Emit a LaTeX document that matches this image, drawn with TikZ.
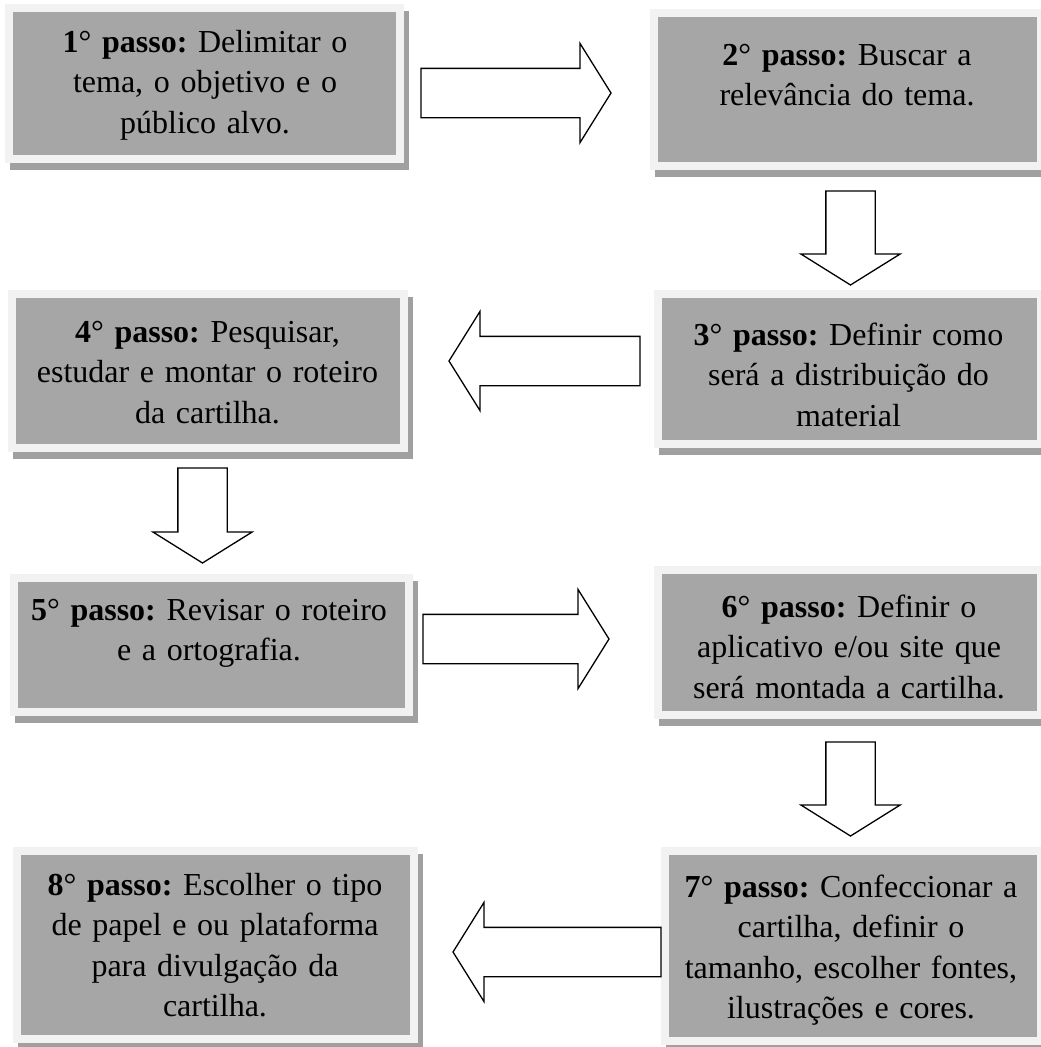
\documentclass[tikz,border=0pt]{standalone}
\usepackage{fontspec}
\setmainfont{Liberation Serif}
\usetikzlibrary{shapes.arrows,shadows}
\definecolor{caixa}{HTML}{A6A6A6}
\definecolor{moldura}{HTML}{F2F2F2}
\definecolor{sombra}{HTML}{A0A0A0}
\frenchspacing
\begin{document}
\begin{tikzpicture}[x=1pt,y=-1pt]
\tikzstyle{passobox}=[rectangle,fill=caixa,draw=moldura,line width=8pt,inner sep=0pt,outer sep=0pt,
  drop shadow={opacity=1,fill=sombra,draw=sombra,line width=8pt,shadow xshift=4.5pt,shadow yshift=-6.5pt}]
\tikzstyle{passotexto}=[text width=390pt,align=center,anchor=base,inner sep=0pt,font=\fontsize{32}{40.5}\selectfont\frenchspacing]
\tikzstyle{seta}=[single arrow,draw=black,fill=white,line width=1.3pt,inner sep=24pt,outer sep=0pt,
  minimum width=0pt,single arrow head extend=25pt,single arrow tip angle=116,anchor=tail]
\useasboundingbox (0,0) rectangle (1041,1047);

% caixas
\node[passobox,minimum width=391pt,minimum height=151pt](p1) at (204.5,83.5) {};
\node[passobox,minimum width=387pt,minimum height=153pt](p2) at (847.5,89.5) {};
\node[passobox,minimum width=383pt,minimum height=150pt](p3) at (849.5,369) {};
\node[passobox,minimum width=392pt,minimum height=154pt](p4) at (208,371) {};
\node[passobox,minimum width=395pt,minimum height=134pt](p5) at (211.5,645) {};
\node[passobox,minimum width=383pt,minimum height=145pt](p6) at (849.5,642.5) {};
\node[passobox,minimum width=376pt,minimum height=190pt](p7) at (853,946) {};
\node[passobox,minimum width=397pt,minimum height=188pt](p8) at (215.5,945) {};

% textos
\node[passotexto](t1) at (205,52) {\textbf{1}° \textbf{passo:} Delimitar o\\tema, o objetivo e o\\público alvo.};
\node[passotexto](t2) at (847,65) {\textbf{2}° \textbf{passo:} Buscar a\\relevância do tema.};
\node[passotexto](t3) at (848.5,345) {\textbf{3}° \textbf{passo:} Definir como\\será a distribuição do\\material};
\node[passotexto](t4) at (207.5,342) {\textbf{4}° \textbf{passo:} Pesquisar,\\estudar e montar o roteiro\\da cartilha.};
\node[passotexto](t5) at (209,620) {\textbf{5}° \textbf{passo:} Revisar o roteiro\\e a ortografia.};
\node[passotexto](t6) at (849,617) {\textbf{6}° \textbf{passo:} Definir o\\aplicativo e/ou site que\\será montada a cartilha.};
\node[passotexto](t7) at (851,897) {\textbf{7}° \textbf{passo:} Confeccionar a\\cartilha, definir o\\tamanho, escolher fontes,\\ilustrações e cores.};
\node[passotexto](t8) at (215,895) {\textbf{8}° \textbf{passo:} Escolher o tipo\\de papel e ou plataforma\\para divulgação da\\cartilha.};

% setas
\node[seta,minimum height=190pt](s12) at (421,93) {};
\node[seta,minimum height=94pt,shape border rotate=270](s23) at (850.5,191) {};
\node[seta,minimum height=191pt,shape border rotate=180](s34) at (640,361) {};
\node[seta,minimum height=95pt,shape border rotate=270](s45) at (202.5,468) {};
\node[seta,minimum height=186pt](s56) at (423,639) {};
\node[seta,minimum height=94pt,shape border rotate=270](s67) at (850.5,742) {};
\node[seta,minimum height=208pt,shape border rotate=180](s78) at (661,952) {};
\end{tikzpicture}
\end{document}
